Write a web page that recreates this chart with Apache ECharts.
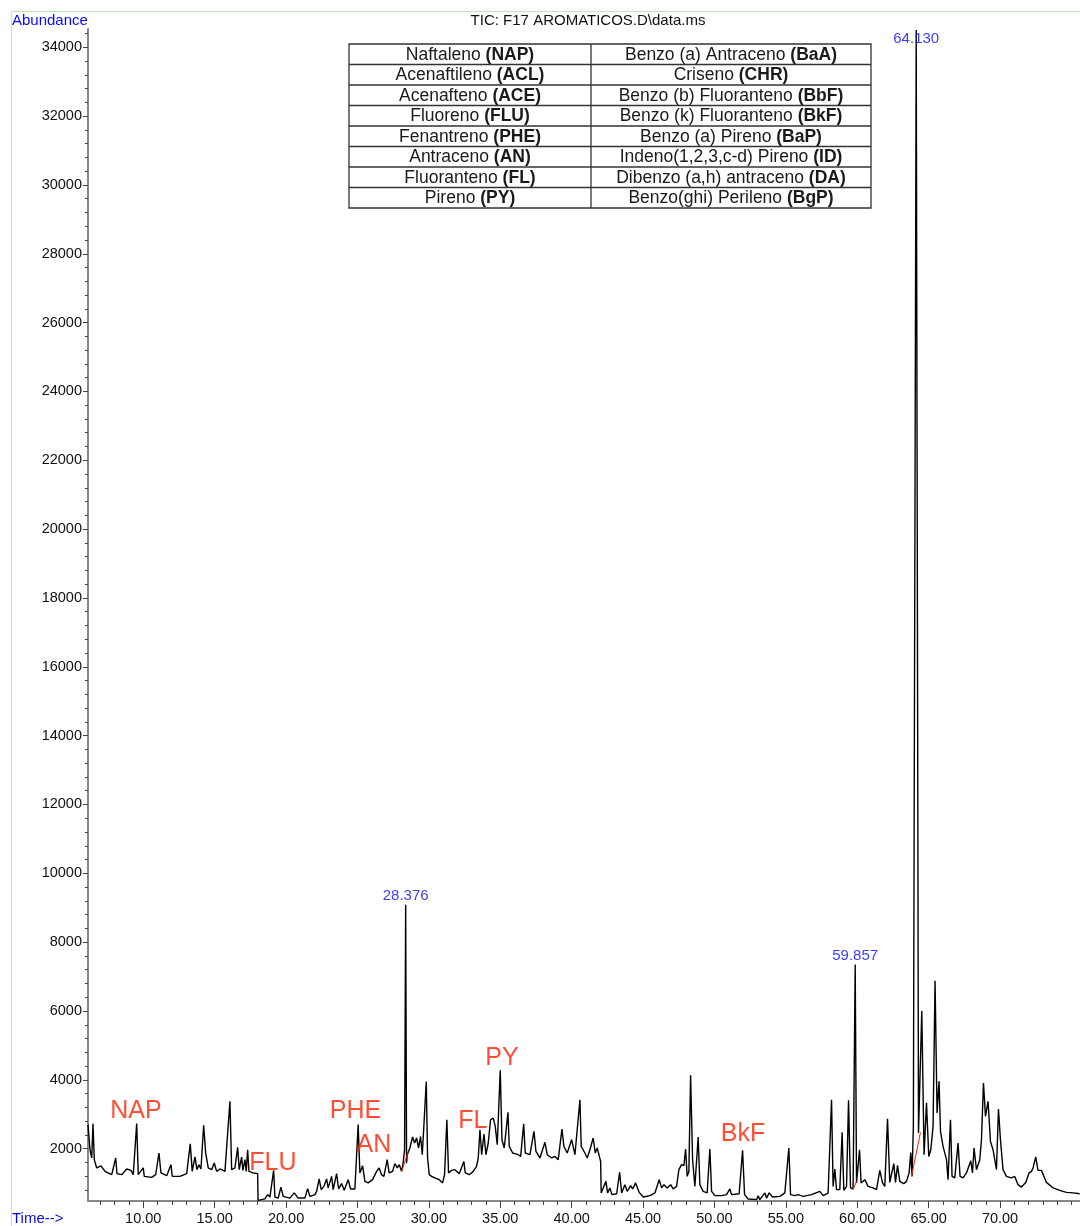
<!DOCTYPE html>
<html>
<head>
<meta charset="utf-8">
<title>TIC: F17 AROMATICOS.D\data.ms</title>
<script src="https://cdn.jsdelivr.net/npm/echarts@6/dist/echarts.min.js"></script>
<style>
html, body { margin: 0; padding: 0; background: #fff; }
#tic { width: 1080px; height: 1226px; }
</style>
</head>
<body>
<div id="tic"></div>
<script>
// retention time (min) and abundance
var retTime = [
  6.13, 6.27, 6.39, 6.48, 6.57, 6.74, 7.04, 7.32, 7.79, 8.07, 8.16, 8.49, 8.84, 9.14, 9.30, 9.54, 9.65,
  10.00, 10.07, 10.59, 10.87, 11.10, 11.24, 11.64, 11.94, 12.03, 12.57, 13.04, 13.29, 13.43, 13.62, 13.76,
  13.90, 14.04, 14.23, 14.37, 14.55, 14.79, 14.97, 15.14, 15.37, 15.72, 16.07, 16.19, 16.42, 16.61, 16.72,
  16.89, 16.98, 17.12, 17.21, 17.31, 17.40, 17.70, 18.01, 18.04, 18.52, 18.71, 18.87, 19.13, 19.22, 19.45,
  19.64, 19.80, 20.27, 20.57, 20.85, 21.32, 21.51, 21.67, 22.02, 22.14, 22.32, 22.46, 22.65, 22.84, 22.95,
  23.19, 23.30, 23.54, 23.68, 23.89, 24.07, 24.35, 24.52, 24.82, 25.05, 25.17, 25.36, 25.52, 25.75, 26.06,
  26.34, 26.52, 26.69, 26.85, 27.08, 27.22, 27.46, 27.62, 27.79, 27.93, 28.09, 28.20, 28.30, 28.376, 28.44,
  28.49, 28.67, 28.86, 29.00, 29.14, 29.28, 29.42, 29.54, 29.82, 29.91, 30.03, 30.19, 30.42, 30.73, 30.96,
  31.10, 31.26, 31.38, 31.59, 31.82, 32.13, 32.45, 32.55, 32.83, 33.11, 33.34, 33.46, 33.58, 33.70, 33.86,
  34.00, 34.16, 34.32, 34.51, 34.65, 34.79, 35.00, 35.12, 35.28, 35.54, 35.63, 35.87, 36.26, 36.43, 36.64,
  36.75, 37.08, 37.36, 37.50, 37.78, 38.13, 38.29, 38.60, 38.83, 39.06, 39.32, 39.46, 39.69, 40.00, 40.23,
  40.58, 40.67, 40.93, 41.09, 41.28, 41.51, 41.65, 41.79, 41.93, 42.03, 42.07, 42.21, 42.40, 42.52, 42.68,
  42.82, 43.15, 43.36, 43.50, 43.73, 43.89, 44.13, 44.27, 44.48, 44.73, 45.01, 45.48, 45.83, 46.13, 46.30,
  46.46, 46.69, 46.93, 47.11, 47.35, 47.51, 47.70, 47.86, 47.98, 48.09, 48.21, 48.33, 48.47, 48.63, 48.86,
  48.98, 49.21, 49.49, 49.68, 49.80, 50.03, 50.50, 50.85, 51.08, 51.20, 51.73, 51.97, 52.11, 52.36, 52.95,
  53.06, 53.18, 53.53, 53.65, 53.83, 54.07, 54.58, 54.93, 55.21, 55.33, 55.63, 55.86, 56.21, 56.80, 57.38,
  57.61, 57.96, 58.20, 58.31, 58.43, 58.55, 58.78, 58.94, 59.06, 59.25, 59.39, 59.53, 59.71, 59.857, 59.95,
  60.16, 60.27, 60.53, 60.76, 61.11, 61.35, 61.58, 61.77, 61.93, 62.12, 62.28, 62.56, 62.68, 62.82, 62.98,
  63.26, 63.45, 63.63, 63.75, 63.84, 63.93, 64.13, 64.29, 64.52, 64.68, 64.85, 65.01, 65.15, 65.31, 65.45,
  65.59, 65.73, 65.83, 66.01, 66.25, 66.36, 66.53, 66.64, 66.83, 67.06, 67.20, 67.41, 67.65, 67.95, 68.07,
  68.18, 68.35, 68.58, 68.70, 68.84, 68.98, 69.16, 69.33, 69.51, 69.75, 69.89, 70.03, 70.21, 70.45, 70.80,
  71.03, 71.26, 71.50, 71.80, 72.03, 72.20, 72.31, 72.50, 72.66, 72.90, 73.25, 73.72, 74.18, 74.65, 75.12,
  75.58
];
var abundance = [
  2700, 1970, 1730, 2720, 1680, 1440, 1500, 1340, 1245, 1730, 1275, 1245, 1410, 1370, 1245, 2730, 1245,
  1440, 1195, 1165, 1245, 1875, 1295, 1215, 1535, 1195, 1195, 1275, 2140, 1340, 1760, 1390,
  1535, 1410, 2680, 1875, 1440, 1390, 1585, 1340, 1410, 1340, 3375, 1390, 1440, 2040, 1390,
  1760, 1370, 1680, 1340, 1970, 1340, 1295, 1275, 500, 540, 665, 595, 1370, 595, 565,
  885, 615, 565, 715, 565, 565, 840, 615, 665, 760, 1120, 810, 905, 1120, 860,
  1195, 810, 1275, 830, 985, 790, 1100, 830, 830, 2700, 1295, 1505, 1050, 1005, 1100,
  1340, 1440, 1245, 1195, 1680, 1295, 1340, 1565, 1440, 1535, 1340, 1585, 1970, 9090, 1585,
  1825, 2020, 2340, 2165, 2310, 2020, 2355, 1825, 3950, 1730, 1245, 1195, 1150, 1100, 1005,
  1245, 2840, 1295, 1370, 1390, 1275, 1630, 1295, 1245, 1340, 1485, 1730, 2550, 1825, 2425,
  1825, 2165, 2840, 2890, 2650, 2115, 4275, 2260, 2020, 3055, 2065, 1875, 1825, 1775, 2725,
  1875, 1825, 2505, 1920, 1730, 2185, 1825, 1730, 1775, 1680, 2570, 2065, 1875, 2260, 1825,
  3420, 2065, 1875, 1730, 1970, 2310, 1875, 2020, 1970, 1630, 715, 665, 1050, 715, 860,
  665, 690, 1310, 715, 955, 760, 925, 830, 1005, 730, 595, 635, 715, 1100, 860,
  955, 860, 955, 830, 905, 1390, 1535, 1505, 1990, 1195, 1340, 4130, 1680, 905, 2340,
  955, 760, 715, 1990, 760, 635, 635, 665, 830, 665, 690, 1950, 665, 540, 520,
  635, 520, 715, 565, 715, 595, 615, 715, 2020, 665, 635, 665, 615, 665, 760,
  635, 710, 3420, 905, 1410, 810, 810, 2475, 790, 905, 3405, 860, 830, 7350, 1005,
  1970, 1005, 1100, 905, 860, 810, 1370, 1005, 905, 2870, 1020, 1565, 1020, 1515, 1050,
  985, 1050, 1295, 1890, 1195, 2650, 34500, 2455, 6000, 1825, 3330, 1775, 1970, 2650, 6880,
  3035, 3955, 2505, 2065, 1680, 1100, 2840, 1195, 1150, 2165, 1195, 1150, 1295, 1650, 1295,
  2020, 1390, 1680, 2260, 3910, 2940, 3375, 2210, 1970, 1390, 3155, 2260, 1390, 1195, 1150,
  1195, 955, 885, 1020, 1295, 1340, 1440, 1760, 1370, 1370, 1020, 860, 790, 730, 715,
  690
];

// integration baselines drawn in red under some peaks
var baselines = [
  [[28.10, 1340], [28.55, 1900]],
  [[59.71, 810], [59.95, 1050]],
  [[63.80, 1195], [64.43, 2475]]
];

// retention times printed above the tallest peaks
var peakTags = [
  ['28.376', 28.376, 9090],
  ['59.857', 59.857, 7350],
  ['64.130', 64.13, 34500]
];

// compound abbreviations written on the trace
var compoundTags = [
  ['NAP', 9.49, 3100],
  ['FLU', 19.08, 1590],
  ['PHE', 24.86, 3100],
  ['AN', 26.15, 2090],
  ['FL', 33.08, 2815],
  ['PY', 35.12, 4645],
  ['BkF', 52.0, 2435]
];

var tableRows = [
  ['Naftaleno ', 'NAP', 'Benzo (a) Antraceno ', 'BaA'],
  ['Acenaftileno ', 'ACL', 'Criseno ', 'CHR'],
  ['Acenafteno ', 'ACE', 'Benzo (b) Fluoranteno ', 'BbF'],
  ['Fluoreno ', 'FLU', 'Benzo (k) Fluoranteno ', 'BkF'],
  ['Fenantreno ', 'PHE', 'Benzo (a) Pireno ', 'BaP'],
  ['Antraceno ', 'AN', 'Indeno(1,2,3,c-d) Pireno ', 'ID'],
  ['Fluoranteno ', 'FL', 'Dibenzo (a,h) antraceno ', 'DA'],
  ['Pireno ', 'PY', 'Benzo(ghi) Perileno ', 'BgP']
];

var xMajorTicks = [10, 15, 20, 25, 30, 35, 40, 45, 50, 55, 60, 65, 70];
var yMajorTicks = [2000, 4000, 6000, 8000, 10000, 12000, 14000, 16000, 18000, 20000,
  22000, 24000, 26000, 28000, 30000, 32000, 34000];
var xMinorTicks = [];
for (var m = 7; m <= 75; m++) xMinorTicks.push(m);
var yMinorTicks = [];
for (var n = 800; n <= 34400; n += 400) yMinorTicks.push(n);

var FONT = '"Liberation Sans", Arial, Helvetica, sans-serif';
var BLUE = '#0a0af0';
var RED = '#ff2200';

var ticData = retTime.map(function (t, i) { return [t, abundance[i]]; });

// table in the top area
var tbl = { left: 349, right: 871, mid: 591, top: 44, rowH: 20.5 };
var tableChildren = [{
  type: 'rect',
  shape: { x: tbl.left, y: tbl.top, width: tbl.right - tbl.left, height: tbl.rowH * tableRows.length },
  style: { fill: '#fff', stroke: '#333', lineWidth: 1.3 }
}, {
  type: 'line',
  shape: { x1: tbl.mid, y1: tbl.top, x2: tbl.mid, y2: tbl.top + tbl.rowH * tableRows.length },
  style: { stroke: '#333', lineWidth: 1.3 }
}];
tableRows.forEach(function (r, i) {
  var yMid = tbl.top + (i + 0.5) * tbl.rowH + 0.5;
  if (i > 0) {
    tableChildren.push({
      type: 'line',
      shape: { x1: tbl.left, y1: tbl.top + i * tbl.rowH, x2: tbl.right, y2: tbl.top + i * tbl.rowH },
      style: { stroke: '#333', lineWidth: 1.3 }
    });
  }
  [[r[0], r[1], (tbl.left + tbl.mid) / 2], [r[2], r[3], (tbl.mid + tbl.right) / 2]].forEach(function (c) {
    tableChildren.push({
      type: 'text',
      x: c[2], y: yMid,
      style: {
        text: '{n|' + c[0] + '}{b|(' + c[1] + ')}',
        align: 'center', verticalAlign: 'middle',
        rich: {
          n: { fontFamily: FONT, fontSize: 17.5, fill: '#1a1a1a' },
          b: { fontFamily: FONT, fontSize: 17.5, fontWeight: 'bold', fill: '#1a1a1a' }
        }
      }
    });
  });
});

var chart = echarts.init(document.getElementById('tic'), null, { renderer: 'canvas' });

var series = [{
  name: 'TIC',
  type: 'line',
  data: ticData,
  showSymbol: false,
  lineStyle: { color: '#000', width: 1.4 },
  z: 3
}];
baselines.forEach(function (seg) {
  series.push({
    type: 'line',
    data: seg,
    showSymbol: false,
    lineStyle: { color: RED, width: 1 },
    z: 4
  });
});
series.push({
  type: 'scatter',
  data: peakTags.map(function (p) {
    return {
      value: [p[1], p[2]], name: p[0],
      label: p[2] > 30000 ? { position: 'bottom', distance: 1 } : {}
    };
  }),
  symbolSize: 1,
  itemStyle: { color: 'rgba(0,0,0,0)' },
  label: {
    show: true, position: 'top', distance: 1,
    formatter: function (p) { return p.name; },
    color: BLUE, fontFamily: FONT, fontSize: 15
  },
  z: 5
});
series.push({
  type: 'scatter',
  data: compoundTags.map(function (c) { return { value: [c[1], c[2]], name: c[0] }; }),
  symbolSize: 1,
  itemStyle: { color: 'rgba(0,0,0,0)' },
  label: {
    show: true, position: 'inside',
    formatter: function (p) { return p.name; },
    color: RED, fontFamily: FONT, fontSize: 25
  },
  z: 5
});

chart.setOption({
  animation: false,
  backgroundColor: '#fff',
  textStyle: { fontFamily: FONT },
  grid: { left: 88, right: 0, top: 29, bottom: 24, containLabel: false },
  xAxis: [{
    type: 'value', min: 6.13, max: 75.6, position: 'bottom',
    axisLine: { show: true, lineStyle: { color: '#888', width: 2 } },
    axisTick: { show: true, customValues: xMajorTicks, length: 7, lineStyle: { color: '#444' } },
    axisLabel: {
      customValues: xMajorTicks, margin: 10, color: '#111', fontSize: 14.5, fontFamily: FONT,
      formatter: function (v) { return v.toFixed(2); }
    },
    splitLine: { show: false }
  }, {
    type: 'value', min: 6.13, max: 75.6, position: 'bottom',
    axisLine: { show: false },
    axisTick: { show: true, customValues: xMinorTicks, length: 4, lineStyle: { color: '#444' } },
    axisLabel: { show: false },
    splitLine: { show: false }
  }],
  yAxis: [{
    type: 'value', min: 480, max: 34530, position: 'left',
    axisLine: { show: true, lineStyle: { color: '#888', width: 2 } },
    axisTick: { show: true, customValues: yMajorTicks, length: 5, lineStyle: { color: '#444' } },
    axisLabel: {
      customValues: yMajorTicks, margin: 6, color: '#111', fontSize: 14.5, fontFamily: FONT,
      formatter: function (v) { return String(v); }
    },
    splitLine: { show: false }
  }, {
    type: 'value', min: 480, max: 34530, position: 'left',
    axisLine: { show: false },
    axisTick: { show: true, customValues: yMinorTicks, length: 3, lineStyle: { color: '#444' } },
    axisLabel: { show: false },
    splitLine: { show: false }
  }],
  graphic: [{
    type: 'rect',
    shape: { x: 11.5, y: 11.5, width: 1200, height: 1300 },
    style: { fill: 'none', stroke: '#b0efb0', lineWidth: 1 },
    z: -1
  }, {
    type: 'text', x: 588, y: 21,
    style: { text: 'TIC: F17 AROMATICOS.D\\data.ms', fontFamily: FONT, fontSize: 15, fill: '#111',
      align: 'center', verticalAlign: 'middle' }
  }, {
    type: 'text', x: 12, y: 21,
    style: { text: 'Abundance', fontFamily: FONT, fontSize: 15, fill: BLUE, align: 'left', verticalAlign: 'middle' }
  }, {
    type: 'text', x: 12, y: 1219,
    style: { text: 'Time-->', fontFamily: FONT, fontSize: 15, fill: BLUE, align: 'left', verticalAlign: 'middle' }
  }, {
    type: 'group',
    children: tableChildren
  }],
  series: series
});
</script>
</body>
</html>
